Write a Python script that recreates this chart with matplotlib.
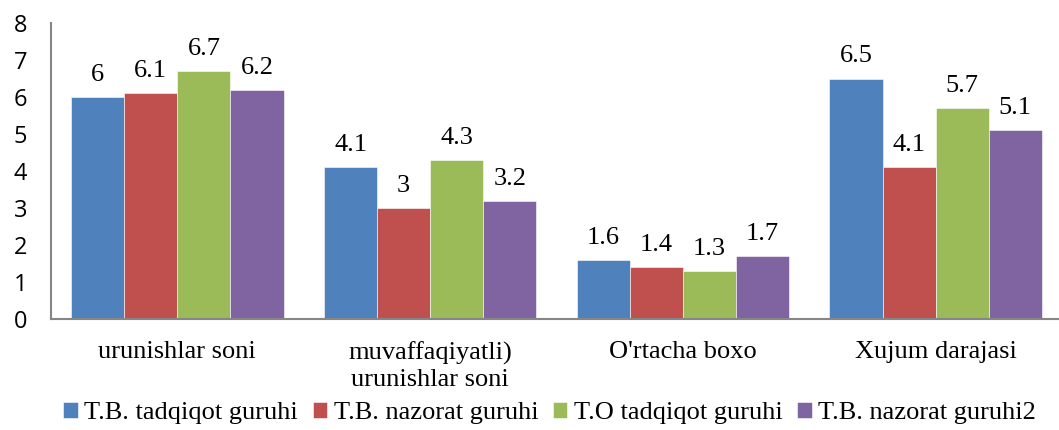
import numpy as np
import matplotlib
matplotlib.use('Agg')
import matplotlib.pyplot as plt

categories = ['urunishlar soni', 'muvaffaqiyatli)\nurunishlar soni', "O'rtacha boxo", 'Xujum darajasi']
series_names = ['T.B. tadqiqot guruhi', 'T.B. nazorat guruhi', 'T.O tadqiqot guruhi', 'T.B. nazorat guruhi2']
tb_tadqiqot = [6, 4.1, 1.6, 6.5]
tb_nazorat = [6.1, 3, 1.4, 4.1]
to_tadqiqot = [6.7, 4.3, 1.3, 5.7]
tb_nazorat2 = [6.2, 3.2, 1.7, 5.1]
colors = ['#4F81BD', '#C0504D', '#9BBB59', '#8064A2']

series = [tb_tadqiqot, tb_nazorat, to_tadqiqot, tb_nazorat2]

fig = plt.figure(figsize=(10.59, 4.30), dpi=100)
# axes reaches slightly past right edge like the original
ax = fig.add_axes([51/1059, 1 - 319/430, 1011/1059, 296/430])

x = np.arange(len(categories))
w = 0.21
for i, vals in enumerate(series):
    pos = x + (i - 1.5) * w
    ax.bar(pos, vals, w, color=colors[i], label=series_names[i],
           edgecolor='white', linewidth=0.4)
    for xp, v in zip(pos, vals):
        ax.text(xp, v + 0.3, f'{v:g}', ha='center', va='bottom',
                fontsize=19, family='Liberation Serif')

ax.set_xlim(-0.5, 3.5)
ax.set_ylim(0, 8)
ax.set_yticks(range(0, 9))
ax.set_xticks(x)
ax.set_xticklabels(categories, fontsize=19, family='Liberation Serif', linespacing=1.25)
ax.tick_params(axis='both', length=0)
ax.tick_params(axis='x', pad=16)
ax.tick_params(axis='y', pad=22)
for lab in ax.get_yticklabels():
    lab.set_fontsize(17)
    lab.set_family('Open Sans')
    lab.set_horizontalalignment('center')
for s in ['top', 'right']:
    ax.spines[s].set_visible(False)
for s in ['left', 'bottom']:
    ax.spines[s].set_color('#868686')
    ax.spines[s].set_linewidth(1.5)

fig.legend(loc='center', bbox_to_anchor=(0.519, 1 - 413/430), ncol=4, frameon=False,
           prop={'family': 'Liberation Serif', 'size': 19},
           handlelength=0.55, handleheight=0.55, handletextpad=0.25, columnspacing=0.55)

fig.savefig('out.png', dpi=100)
